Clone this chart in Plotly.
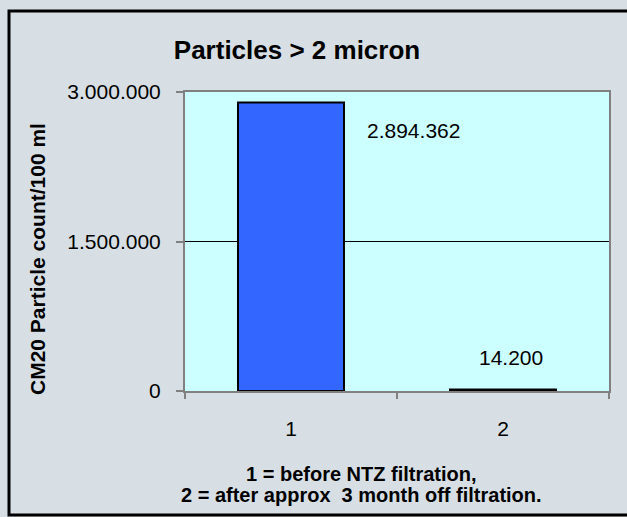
import plotly.graph_objects as go

# ---- data ----
categories = ["1", "2"]
values = [2894362, 14200]
value_labels = ["2.894.362", "14.200"]
y_tickvals = [0, 1500000, 3000000]
y_ticktext = ["0", "1.500.000", "3.000.000"]
gridline_value = 1500000

title_text = "Particles > 2 micron"
y_title = "CM20 Particle count/100 ml"
note_lines = ["1 = before NTZ filtration,", "2 = after approx&nbsp; 3 month off filtration."]

FONT = "Liberation Sans, Arial, sans-serif"

W, H = 627, 517
L, R, T, B = 185, 18, 92, 126
pw, ph = W - L - R, H - T - B


def px_x(p):
    return (p - L) / pw


def px_y(p):
    return (H - B - p) / ph


fig = go.Figure()
fig.add_trace(go.Bar(
    x=categories, y=values, width=0.5,
    marker=dict(color="#3366FF", line=dict(color="black", width=2)),
    hoverinfo="skip",
))

# value labels (category index positions)
shifts = [(122, -28), (8, 32)]
for i, (v, t, (dx, dy)) in enumerate(zip(values, value_labels, shifts)):
    fig.add_annotation(x=i, y=v, text=t, showarrow=False, xshift=dx, yshift=dy,
                       xanchor="center", yanchor="middle",
                       font=dict(family=FONT, size=21, color="black"))

# gridline
fig.add_shape(type="line", xref="paper", yref="y", x0=0, x1=1,
              y0=gridline_value, y1=gridline_value,
              line=dict(color="black", width=1), layer="below")

# y axis title
fig.add_annotation(xref="paper", yref="paper", x=px_x(37), y=px_y(259),
                   xanchor="center", yanchor="middle",
                   text="<b>" + y_title + "</b>", textangle=-90, showarrow=False,
                   font=dict(family=FONT, size=21, color="black"))

# bottom note
for line, ypx in zip(note_lines, [474, 495]):
    fig.add_annotation(xref="paper", yref="paper", x=px_x(361), y=px_y(ypx),
                       xanchor="center", yanchor="middle",
                       text="<b>" + line + "</b>", showarrow=False,
                       font=dict(family=FONT, size=20, color="black"))

# outer border
fig.add_shape(type="rect", xref="paper", yref="paper",
              x0=px_x(9), x1=px_x(640), y0=px_y(515), y1=px_y(11),
              line=dict(color="black", width=3), layer="below")

fig.update_layout(
    width=W, height=H,
    margin=dict(l=L, r=R, t=T, b=B),
    paper_bgcolor="#d7dfe4",
    plot_bgcolor="#CCFFFF",
    showlegend=False,
    title=dict(text="<b>" + title_text + "</b>", x=297 / W,
               xanchor="center", xref="container",
               y=1 - 50 / H, yanchor="middle", yref="container",
               font=dict(family=FONT, size=26, color="black")),
    xaxis=dict(type="category", range=[-0.5, 1.5], showline=True, linecolor="#808080",
               linewidth=2, mirror=True, ticks="outside", tickson="boundaries",
               ticklen=6, tickcolor="#808080", tickwidth=2, showgrid=False,
               ticklabelstandoff=18,
               tickfont=dict(family=FONT, size=21, color="black")),
    yaxis=dict(range=[0, 3000000], tickvals=y_tickvals, ticktext=y_ticktext,
               showline=True, linecolor="#808080", linewidth=2, mirror=True,
               ticks="outside", ticklen=7, tickcolor="#808080", tickwidth=2,
               showgrid=False, zeroline=False, ticklabelstandoff=11,
               tickfont=dict(family=FONT, size=21, color="black")),
)

fig.write_html("out.html", config={"displayModeBar": False},
               post_script="document.body.style.margin='0';")
